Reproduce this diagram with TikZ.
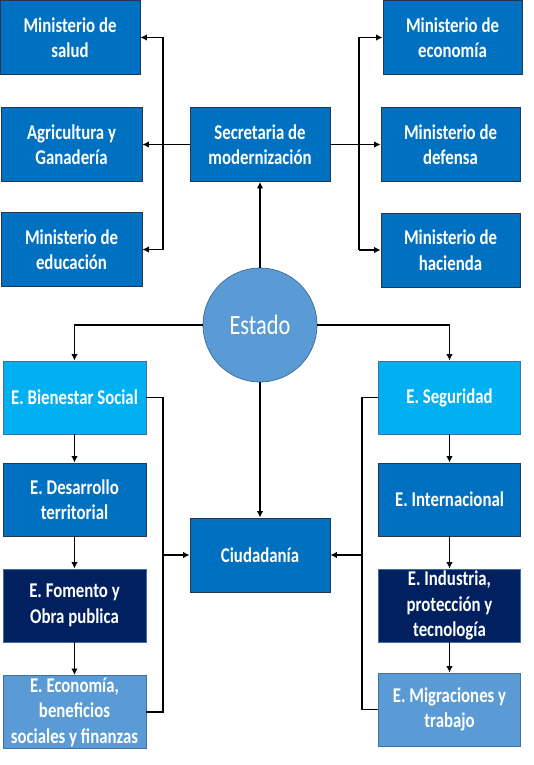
\documentclass[tikz,border=0pt]{standalone}
\usepackage{fontspec}
\setmainfont[FakeStretch=0.8]{Carlito}
\usetikzlibrary{arrows.meta, positioning, calc}

\definecolor{midblue}{HTML}{0070C0}
\definecolor{skyblue}{HTML}{00B0F0}
\definecolor{navyblue}{HTML}{002060}
\definecolor{softblue}{HTML}{5B9BD5}
\definecolor{darkedge}{HTML}{26364F}
\definecolor{softedge}{HTML}{41719C}

\begin{document}
\begin{tikzpicture}[x=1pt, y=-1pt,
    box/.style={rectangle, draw=darkedge, line width=0.8pt, text=white, align=center,
        font=\bfseries\fontsize{21}{25.5}\selectfont, minimum width=140pt, minimum height=74pt, inner sep=0pt},
    midbox/.style={box, fill=midblue},
    skybox/.style={box, fill=skyblue, draw=softedge},
    navybox/.style={box, fill=navyblue, draw=softedge},
    softbox/.style={box, fill=softblue, draw=softedge},
    link/.style={line width=1.6pt},
    arr/.style={link, -{Latex[length=6.5pt, width=6.5pt]}}]
    \useasboundingbox (0,0) rectangle (534,765);

    % ministerios y secretaria
    \node[midbox] (salud) at (70,37.5) {Ministerio de\\salud};
    \node[midbox, minimum width=141pt] (agri) at (71.5,144.5) {Agricultura y\\Ganader\'ia};
    \node[midbox, minimum width=141pt] (educ) at (71.5,249.5) {Ministerio de\\educaci\'on};
    \node[midbox] (secr) at (260,144.5) {Secretaria de\\modernizaci\'on};
    \node[midbox, minimum width=139pt] (econ) at (452.5,37.5) {Ministerio de\\econom\'ia};
    \node[midbox, minimum width=139pt] (defensa) at (450.5,144.5) {Ministerio de\\defensa};
    \node[midbox, minimum width=139pt] (hacienda) at (450.5,250) {Ministerio de\\hacienda};

    % estado
    \node[circle, fill=softblue, draw=softedge, line width=0.8pt, minimum size=114pt, text=white,
        font=\fontsize{28}{30}\selectfont] (estado) at (260,325) {Estado};

    % estrategias
    \node[skybox, minimum width=143pt, minimum height=73pt] (bienestar) at (74.5,397.5) {E. Bienestar Social};
    \node[midbox, minimum width=143pt, minimum height=73pt] (desarrollo) at (74.5,499.5) {E. Desarrollo\\territorial};
    \node[navybox, minimum width=143pt, minimum height=73pt] (fomento) at (74.5,605.5) {E. Fomento y\\Obra publica};
    \node[softbox, minimum width=143pt, minimum height=73pt] (economia) at (74.5,712) {E. Econom\'ia,\\beneficios\\sociales y finanzas};
    \node[skybox, minimum width=142pt, minimum height=73pt] (seguridad) at (449.5,397.5) {E. Seguridad};
    \node[midbox, minimum width=142pt, minimum height=73pt] (internac) at (449.5,499.5) {E. Internacional};
    \node[navybox, minimum width=142pt, minimum height=73pt] (industria) at (449.5,605.5) {E. Industria,\\protecci\'on y\\tecnolog\'ia};
    \node[softbox, minimum width=142pt, minimum height=73pt] (migra) at (449.5,709.5) {E. Migraciones y\\trabajo};
    \node[midbox] (ciud) at (260,555) {Ciudadan\'ia};

    \coordinate (lb) at (163,145);
    \coordinate (rb) at (359,145);
    \coordinate (cl) at (163,555);
    \coordinate (cr) at (362,555);

    % arriba
    \draw[arr] (estado) -- (secr);
    \draw[arr] (secr.west) -- (agri.east);
    \draw[link] (lb |- salud.east) -- (lb |- educ.east);
    \draw[arr] (lb |- salud.east) -- (salud.east);
    \draw[arr] (lb |- educ.east) -- (educ.east);
    \draw[arr] (secr.east) -- (defensa.west);
    \draw[link] (rb |- econ.west) -- (rb |- hacienda.west);
    \draw[arr] (rb |- econ.west) -- (econ.west);
    \draw[arr] (rb |- hacienda.west) -- (hacienda.west);

    % abajo
    \draw[arr] (estado.west) -| (bienestar.north);
    \draw[arr] (estado.east) -| (seguridad.north);
    \draw[arr] (estado) -- (ciud);
    \draw[arr] (bienestar) -- (desarrollo);
    \draw[arr] (desarrollo) -- (fomento);
    \draw[arr] (fomento) -- (economia);
    \draw[arr] (seguridad) -- (internac);
    \draw[arr] (internac) -- (industria);
    \draw[arr] (industria) -- (migra);
    \draw[link] (bienestar.east) -| (cl |- economia.east) -- (economia.east);
    \draw[link] (seguridad.west) -| (cr |- migra.west) -- (migra.west);
    \draw[arr] (cl) -- (ciud.west);
    \draw[arr] (cr) -- (ciud.east);
\end{tikzpicture}
\end{document}
